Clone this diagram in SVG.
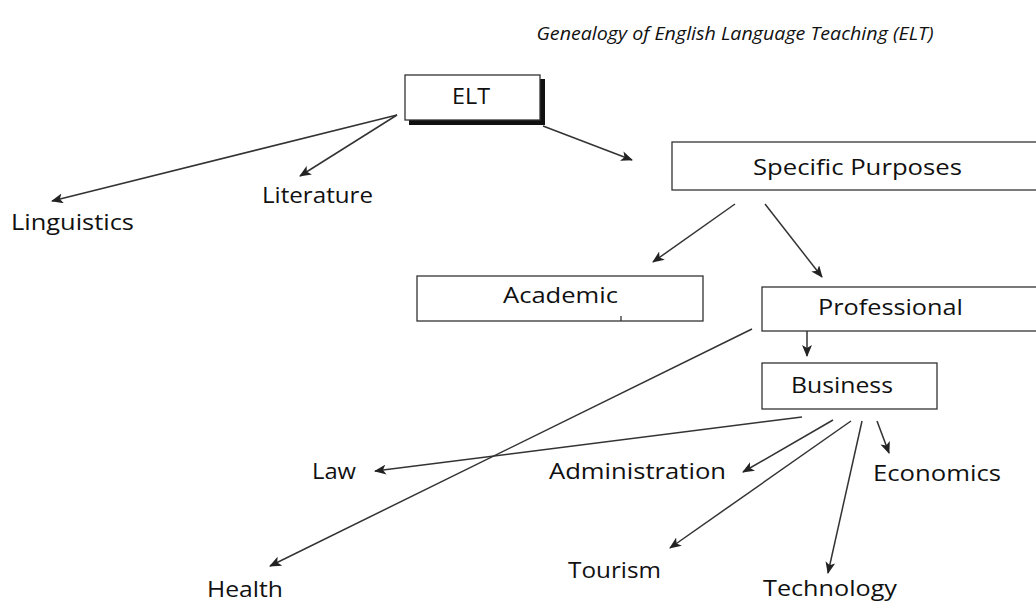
<svg xmlns="http://www.w3.org/2000/svg" width="1036" height="601" viewBox="0 0 1036 601">
<style>
.t{font-family:"Open Sans","Liberation Sans",sans-serif;font-size:21px;fill:#111}
.box{fill:#fff;stroke:#333;stroke-width:1.3}
.c{stroke:#333;stroke-width:1.5;fill:none;marker-end:url(#ah)}
</style>
<defs>
<marker id="ah" viewBox="0 0 12 10" refX="11" refY="5" markerWidth="12" markerHeight="10" markerUnits="userSpaceOnUse" orient="auto">
<path d="M0,0 L12,5 L0,10 L3,5 z" fill="#222"/>
</marker>
</defs>
<rect width="1036" height="601" fill="#fff"/>
<text x="735" y="40" text-anchor="middle" font-family="Open Sans, Liberation Sans, sans-serif" font-style="italic" font-size="18" fill="#111" textLength="397" lengthAdjust="spacingAndGlyphs">Genealogy of English Language Teaching (ELT)</text>
<g id="connectors">
<line class="c" x1="397" y1="115" x2="52" y2="201"/>
<line class="c" x1="397" y1="115" x2="300" y2="176"/>
<line class="c" x1="543" y1="126" x2="632" y2="160"/>
<line class="c" x1="735" y1="204" x2="653" y2="262"/>
<line class="c" x1="765" y1="204" x2="822" y2="277"/>
<line class="c" x1="807" y1="331" x2="807" y2="356"/>
<line class="c" x1="752" y1="329" x2="270" y2="566"/>
<line class="c" x1="802" y1="417" x2="375" y2="471"/>
<line class="c" x1="833" y1="420" x2="743" y2="472"/>
<line class="c" x1="851" y1="421" x2="670" y2="548"/>
<line class="c" x1="862" y1="421" x2="828" y2="573"/>
<line class="c" x1="877" y1="421" x2="889" y2="453"/>
</g>
<g id="elt">
<rect x="409" y="79" width="136" height="46" fill="#111"/>
<rect class="box" x="405" y="75" width="135" height="45"/>
<text class="t" x="452" y="104" textLength="38" lengthAdjust="spacingAndGlyphs">ELT</text>
</g>
<g id="specific">
<rect class="box" x="672" y="142" width="370" height="48"/>
<text class="t" x="753" y="175" textLength="209" lengthAdjust="spacingAndGlyphs">Specific Purposes</text>
</g>
<g id="academic">
<rect class="box" x="417" y="276" width="286" height="45"/>
<line x1="621" y1="316" x2="621" y2="321" stroke="#333" stroke-width="1.3"/>
<text class="t" x="503" y="303" textLength="115" lengthAdjust="spacingAndGlyphs">Academic</text>
</g>
<g id="professional">
<rect class="box" x="762" y="287" width="280" height="44"/>
<text class="t" x="818" y="315" textLength="145" lengthAdjust="spacingAndGlyphs">Professional</text>
</g>
<g id="business">
<rect class="box" x="762" y="363" width="175" height="46"/>
<text class="t" x="791" y="393" textLength="102" lengthAdjust="spacingAndGlyphs">Business</text>
</g>
<g id="linguistics"><text class="t" x="11" y="230" textLength="123" lengthAdjust="spacingAndGlyphs">Linguistics</text></g>
<g id="literature"><text class="t" x="262" y="203" textLength="111" lengthAdjust="spacingAndGlyphs">Literature</text></g>
<g id="law"><text class="t" x="312" y="479" textLength="44" lengthAdjust="spacingAndGlyphs">Law</text></g>
<g id="administration"><text class="t" x="549" y="479" textLength="177" lengthAdjust="spacingAndGlyphs">Administration</text></g>
<g id="economics"><text class="t" x="873" y="481" textLength="128" lengthAdjust="spacingAndGlyphs">Economics</text></g>
<g id="tourism"><text class="t" x="568" y="578" textLength="93" lengthAdjust="spacingAndGlyphs">Tourism</text></g>
<g id="technology"><text class="t" x="763" y="596" textLength="134" lengthAdjust="spacingAndGlyphs">Technology</text></g>
<g id="health"><text class="t" x="207" y="597" textLength="76" lengthAdjust="spacingAndGlyphs">Health</text></g>
</svg>
